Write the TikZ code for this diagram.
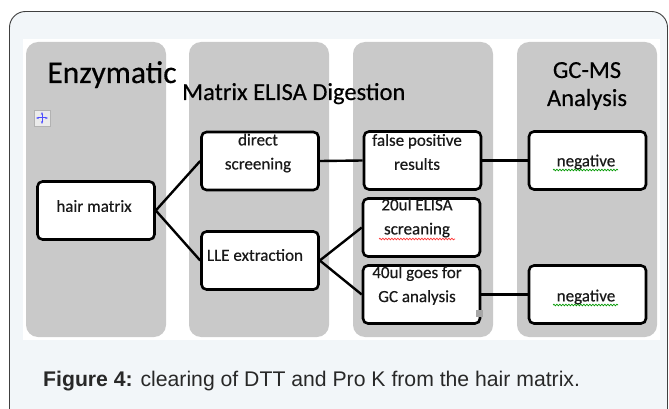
\documentclass[tikz,border=0pt]{standalone}
\usepackage{fontspec}
\setmainfont{Carlito}[FakeBold=0.4]
\newfontfamily\capfont{Liberation Sans}
\usetikzlibrary{arrows.meta,calc,positioning,decorations.pathmorphing}
\definecolor{framebg}{RGB}{242,246,249}
\definecolor{colgrey}{RGB}{201,201,201}
\definecolor{captext}{RGB}{40,40,40}
\tikzset{
  stagebox/.style={draw=black, line width=2.6pt, fill=white, rounded corners=5pt,
    minimum width=117pt, minimum height=58pt, inner sep=0pt},
  boxtext/.style={font=\fontsize{17}{24}\selectfont, align=center, text=black!90, inner sep=0pt},
  stagetitle/.style={font=\fontsize{24.5}{28}\selectfont, text=black, inner sep=0pt},
  link/.style={line width=2.4pt, black},
  squiggle/.style={decorate, decoration={snake, amplitude=0.8pt, segment length=3pt}, line width=0.7pt}
}

\begin{document}
\begin{tikzpicture}[x=1pt, y=-1pt]
\useasboundingbox (0,0) rectangle (669,409);
\clip (0,0) rectangle (669,409);
% outer frame and white panel
\draw[fill=framebg, draw=black!75, line width=0.9pt, rounded corners=16pt] (9.5,11.5) rectangle (667.5,425);
\fill[white] (23,39) rectangle (660,340);

% grey stage columns
\foreach \x in {26, 189, 353, 517} {
  \fill[colgrey, rounded corners=12pt] (\x,42) rectangle ++(140,295);
}

% stage titles
\node[stagetitle, font=\fontsize{31.5}{32}\selectfont, anchor=base] (enz) at (112,83) {Enzymatic};
\node[stagetitle, anchor=base west] (mat) at (182,100) {Matrix ELISA Digestion};
\node[stagetitle, anchor=base] (gcms) at (587,78) {GC-MS};
\node[stagetitle, anchor=base] (ana) at (587,106) {Analysis};

% move handle
\draw[draw=black!30, fill=black!8] (34,110) rectangle (50,126);
\draw[blue!70, line width=1pt, {Stealth[length=3pt]}-{Stealth[length=3pt]}] (36,118) -- (48,118);
\draw[blue!70, line width=1pt, {Stealth[length=3pt]}-{Stealth[length=3pt]}] (42,112) -- (42,124);

% boxes
\node[stagebox] (hm) at (96,210.5) {};
\node[stagebox] (ds) at (260,161) {};
\node[stagebox] (lle) at (260,260.5) {};
\node[stagebox] (fp) at (422.5,160.5) {};
\node[stagebox] (es) at (421.5,227.5) {};
\node[stagebox] (ga) at (421.5,294.5) {};
\node[stagebox] (neg1) at (587.5,160.5) {};
\node[stagebox] (neg2) at (587.5,294.5) {};

% box texts
\node[boxtext] (hmtext) at (94,206) {hair matrix};
\node[boxtext] (dstext) at (258,153) {direct\\screening};
\node[boxtext] (lletext) at (255,255) {LLE extraction};
\node[boxtext] (fptext) at (417,152) {false positive\\results};
\node[boxtext] (estext) at (417,218) {20ul ELISA\\screaning};
\node[boxtext] (gatext) at (417,285.5) {40ul goes for\\GC analysis};
\node[boxtext] (neg1text) at (586,162) {negative};
\node[boxtext] (neg2text) at (586,297) {negative};

% spelling marks
\draw[squiggle, red!80] (379,239) -- (455,239);
\draw[squiggle, green!60!black] (553,170) -- (618,170);
\draw[squiggle, green!60!black] (553,305) -- (618,305);
\fill[black!35] (476,310) rectangle (483,317);

% connectors
\draw[link] (hm.east) -- (ds.west);
\draw[link] (hm.east) -- (lle.west);
\draw[link] (ds.east) -- (fp.west);
\draw[link] (fp.east) -- (neg1.west);
\draw[link] (lle.east) -- (es.west);
\draw[link] (lle.east) -- (ga.west);
\draw[link] (ga.east) -- (neg2.west);

% caption
\node[anchor=base west, inner sep=0pt, text=captext, font=\capfont\fontsize{21.2}{21.2}\selectfont] (cap) at (43,386)
  {\textbf{Figure 4:} clearing of DTT and Pro K from the hair matrix.};
\end{tikzpicture}
\end{document}
